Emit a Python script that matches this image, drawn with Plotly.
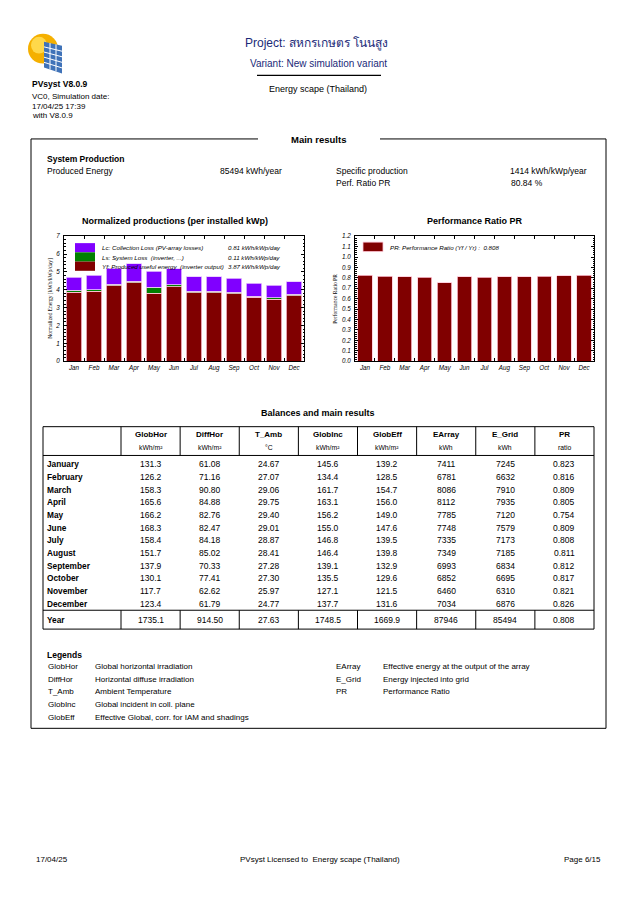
import plotly.graph_objects as go

W, H = 637, 900
FONT = "Liberation Sans, Arial, Noto Sans, DejaVu Sans, sans-serif"
SERIF = "Liberation Serif, DejaVu Serif, serif"

# ---------------- data ----------------
months = ["Jan", "Feb", "Mar", "Apr", "May", "Jun", "Jul", "Aug", "Sep", "Oct", "Nov", "Dec"]
# Normalized productions (kWh/kWp/day)
yf = [3.87, 3.92, 4.22, 4.38, 3.80, 4.18, 3.83, 3.83, 3.77, 3.57, 3.48, 3.67]
ls = [0.09, 0.09, 0.09, 0.10, 0.35, 0.09, 0.09, 0.09, 0.09, 0.08, 0.08, 0.08]
lc = [0.74, 0.79, 0.90, 0.97, 0.89, 0.90, 0.82, 0.80, 0.78, 0.72, 0.68, 0.69]
# Performance ratio
pr = [0.823, 0.816, 0.809, 0.805, 0.754, 0.809, 0.808, 0.811, 0.812, 0.817, 0.821, 0.826]

row_labels = ["January", "February", "March", "April", "May", "June", "July",
              "August", "September", "October", "November", "December"]
col_names = ["GlobHor", "DiffHor", "T_Amb", "GlobInc", "GlobEff", "EArray", "E_Grid", "PR"]
col_units = ["kWh/m²", "kWh/m²", "°C", "kWh/m²", "kWh/m²", "kWh", "kWh", "ratio"]
col_fmt = ["{:.1f}", "{:.2f}", "{:.2f}", "{:.1f}", "{:.1f}", "{:.0f}", "{:.0f}", "{:.3f}"]
glob_hor = [131.3, 126.2, 158.3, 165.6, 166.2, 168.3, 158.4, 151.7, 137.9, 130.1, 117.7, 123.4]
diff_hor = [61.08, 71.16, 90.80, 84.88, 82.76, 82.47, 84.18, 85.02, 70.33, 77.41, 62.62, 61.79]
t_amb = [24.67, 27.07, 29.06, 29.75, 29.40, 29.01, 28.87, 28.41, 27.28, 27.30, 25.97, 24.77]
glob_inc = [145.6, 134.4, 161.7, 163.1, 156.2, 155.0, 146.8, 146.4, 139.1, 135.5, 127.1, 137.7]
glob_eff = [139.2, 128.5, 154.7, 156.0, 149.0, 147.6, 139.5, 139.8, 132.9, 129.6, 121.5, 131.6]
e_array = [7411, 6781, 8086, 8112, 7785, 7748, 7335, 7349, 6993, 6852, 6460, 7034]
e_grid = [7245, 6632, 7910, 7935, 7120, 7579, 7173, 7185, 6834, 6695, 6310, 6876]
year_row = [1735.1, 914.50, 27.63, 1748.5, 1669.9, 87946, 85494, 0.808]

legend_left = [
    ("Lc: Collection Loss (PV-array losses)", "0.81 kWh/kWp/day", "#8000ff"),
    ("Ls: System Loss  (inverter, ...)", "0.11 kWh/kWp/day", "#008000"),
    ("Yf: Produced useful energy  (inverter output)", "3.87 kWh/kWp/day", "#800000"),
]
legend_items_l = [("GlobHor", "Global horizontal irradiation"),
                  ("DiffHor", "Horizontal diffuse irradiation"),
                  ("T_Amb", "Ambient Temperature"),
                  ("GlobInc", "Global incident in coll. plane"),
                  ("GlobEff", "Effective Global, corr. for IAM and shadings")]
legend_items_r = [("EArray", "Effective energy at the output of the array"),
                  ("E_Grid", "Energy injected into grid"),
                  ("PR", "Performance Ratio")]


def px(x):
    return x / W


def py(y):
    return 1 - y / H


annotations = []
shapes = []


def txt(x, y, text, size=8.5, anchor="left", color="black", family=FONT, italic=False, angle=0):
    annotations.append(dict(
        x=px(x), y=py(y), xref="paper", yref="paper", text=text, showarrow=False,
        xanchor=anchor, yanchor="middle", textangle=angle,
        font=dict(size=size, color=color, family=family, style="italic" if italic else "normal"),
    ))


def line(x0, y0, x1, y1, w=1, color="black"):
    shapes.append(dict(type="line", xref="paper", yref="paper", x0=px(x0), y0=py(y0),
                       x1=px(x1), y1=py(y1), line=dict(color=color, width=w)))


def rect(x0, y0, x1, y1, fill=None, lc="black", w=1):
    shapes.append(dict(type="rect", xref="paper", yref="paper", x0=px(x0), y0=py(y0),
                       x1=px(x1), y1=py(y1), fillcolor=fill if fill else "rgba(0,0,0,0)",
                       line=dict(color=lc, width=w)))


fig = go.Figure()

# ---------------- charts ----------------
edge = dict(color="#ffc8d8", width=0.8)
fig.add_trace(go.Bar(x=months, y=yf, marker=dict(color="#800000", line=edge), width=0.78,
                     xaxis="x", yaxis="y"))
fig.add_trace(go.Bar(x=months, y=ls, marker=dict(color="#008000", line=edge), width=0.78,
                     xaxis="x", yaxis="y"))
fig.add_trace(go.Bar(x=months, y=lc, marker=dict(color="#8000ff", line=dict(color="#e8c8ff", width=0.8)),
                     width=0.78, xaxis="x", yaxis="y"))
fig.add_trace(go.Bar(x=months, y=pr, marker=dict(color="#800000", line=edge), width=0.72,
                     xaxis="x2", yaxis="y2"))

tickf = dict(size=6.3, family=FONT, style="italic", color="black")
ax_common = dict(showline=True, linecolor="black", linewidth=1, mirror="allticks",
                 ticks="inside", tickcolor="black", showgrid=False,
                 zeroline=False, tickfont=tickf)

fig.update_layout(
    width=W, height=900, margin=dict(l=0, r=0, t=0, b=0),
    paper_bgcolor="white", plot_bgcolor="white", showlegend=False,
    barmode="stack", bargap=0.2,
    xaxis=dict(domain=[px(64), px(304)], anchor="y", type="category", tickson="boundaries",
               tickangle=0, range=[-0.5, 11.5], ticklen=3, **ax_common),
    yaxis=dict(domain=[py(360), py(234)], anchor="x", range=[0, 7], dtick=1, ticklen=3,
               minor=dict(ticks="inside", ticklen=1.5, dtick=0.2, tickcolor="black"),
               ticklabelstandoff=2, **ax_common),
    xaxis2=dict(domain=[px(355), px(594)], anchor="y2", type="category", tickson="boundaries",
                tickangle=0, range=[-0.5, 11.5], ticklen=3, **ax_common),
    yaxis2=dict(domain=[py(360), py(234)], anchor="x2", range=[0, 1.2], dtick=0.1, ticklen=3,
                tickformat=".1f",
                minor=dict(ticks="inside", ticklen=1.5, dtick=0.02, tickcolor="black"),
                ticklabelstandoff=2, **ax_common),
)

# chart titles / axis titles
txt(175, 219, "<b>Normalized productions (per installed kWp)</b>", size=9, anchor="center")
txt(475, 219, "<b>Performance Ratio PR</b>", size=9, anchor="center")
txt(50, 297, "Normalized Energy [kWh/kWp/day]", size=5.5, anchor="center", family=SERIF, angle=-90)
txt(335, 297, "Performance Ratio PR", size=5.5, anchor="center", family=SERIF, angle=-90)

# left chart legend
for i, (lab, val, col) in enumerate(legend_left):
    y0 = 241 + i * 9.3
    rect(75, y0, 95, y0 + 9.3, fill=col, lc=col, w=0)
    txt(100, y0 + 4.8, lab, size=6.2, italic=True)
    txt(226, y0 + 4.8, val, size=6.2, italic=True)

# right chart legend
rect(363, 240, 383, 249.5, fill="#800000", lc="#ffc8d8", w=0.8)
txt(388, 245, "PR: Performance Ratio (Yf / Yr) :  0.808", size=6.2, italic=True)

# ---------------- header ----------------
blue = "#1a2a78"
txt(316, 40, "Project: สหกรเกษตร โนนสูง", size=12, anchor="center", color=blue)
txt(318, 60, "Variant: New simulation variant", size=10, anchor="center", color=blue)
line(257, 72, 381, 72, w=1.2)
txt(318, 86, "Energy scape (Thailand)", size=9, anchor="center")

# logo
shapes.append(dict(type="circle", xref="paper", yref="paper", x0=px(28), y0=py(60), x1=px(58), y1=py(30),
                   fillcolor="#f5b000", line=dict(width=0)))
shapes.append(dict(type="circle", xref="paper", yref="paper", x0=px(31), y0=py(50), x1=px(47), y1=py(33),
                   fillcolor="#ffd84a", line=dict(width=0)))
shapes.append(dict(type="path", xref="paper", yref="paper",
                   path=f"M {px(44)},{py(38)} L {px(62)},{py(42)} L {px(62)},{py(70)} L {px(44)},{py(64)} Z",
                   fillcolor="#3f72b8", line=dict(width=0)))
for k in range(1, 3):
    xx = 44 + k * 6
    line(xx, 38 + k * 1.33, xx, 64 + k * 2, w=1, color="white")
for k in range(1, 5):
    yy = 38 + k * 5.2
    line(44, yy, 62, yy + 4 + k * 0.4, w=1, color="white")

txt(30, 81, "<b>PVsyst V8.0.9</b>", size=8.5)
txt(30, 93, "VC0, Simulation date:", size=8)
txt(30, 103, "17/04/25 17:39", size=8)
txt(30, 112, "with V8.0.9", size=8)

# ---------------- main results frame ----------------
line(31, 136, 258, 136)
line(380, 136, 606, 136)
line(31, 136, 31, 730)
line(606, 136, 606, 730)
line(31, 730, 606, 730)
txt(319, 137, "<b>Main results</b>", size=9.5, anchor="center")

txt(45, 156, "<b>System Production</b>", size=8.5)
txt(45, 168, "Produced Energy", size=8.5)
txt(218, 168, "85494 kWh/year", size=8.5)
txt(334, 168, "Specific production", size=8.5)
txt(589, 168, "1414 kWh/kWp/year", size=8.5, anchor="right")
txt(334, 180, "Perf. Ratio PR", size=8.5)
txt(509, 180, "80.84 %", size=8.5)

# ---------------- table ----------------
txt(318, 412, "<b>Balances and main results</b>", size=9, anchor="center")
tx0, tx1, ty0, ty1 = 43, 594, 426, 630
hdr_line, yr_line = 455, 611
rect(tx0, ty0, tx1, ty1, w=1)
line(tx0, hdr_line, tx1, hdr_line)
line(tx0, yr_line, tx1, yr_line)
c0 = 121
cw = (tx1 - c0) / len(col_names)
for i in range(len(col_names)):
    xb = c0 + i * cw
    line(xb, ty0, xb, hdr_line)
    line(xb, yr_line, xb, ty1)

columns = [glob_hor, diff_hor, t_amb, glob_inc, glob_eff, e_array, e_grid, pr]
for j, (name, unit, fmt, vals) in enumerate(zip(col_names, col_units, col_fmt, columns)):
    xc = c0 + (j + 0.5) * cw
    txt(xc, 434, f"<b>{name}</b>", size=8, anchor="center")
    txt(xc, 447, unit, size=6.8, anchor="center")
    for i, v in enumerate(vals):
        txt(xc, 464 + i * 12.75, fmt.format(v), size=8.5, anchor="center")
    txt(xc, 621, fmt.format(year_row[j]), size=8.5, anchor="center")
for i, lab in enumerate(row_labels):
    txt(45, 464 + i * 12.75, f"<b>{lab}</b>", size=8.3)
txt(45, 621, "<b>Year</b>", size=8.3)

# ---------------- legends ----------------
txt(45, 656, "<b>Legends</b>", size=8.5)
for i, (a, d) in enumerate(legend_items_l):
    y = 667.5 + i * 12.8
    txt(46, y, a, size=8)
    txt(93, y, d, size=8)
for i, (a, d) in enumerate(legend_items_r):
    y = 667.5 + i * 12.8
    txt(334, y, a, size=8)
    txt(381, y, d, size=8)

# ---------------- footer ----------------
txt(34, 862, "17/04/25", size=8)
txt(320, 862, "PVsyst Licensed to  Energy scape (Thailand)", size=8, anchor="center")
txt(603, 862, "Page 6/15", size=8, anchor="right")

fig.update_layout(annotations=annotations, shapes=shapes)
fig.write_html("out.html", config={"displayModeBar": False},
               post_script="document.body.style.margin='0';document.body.style.padding='0';")
